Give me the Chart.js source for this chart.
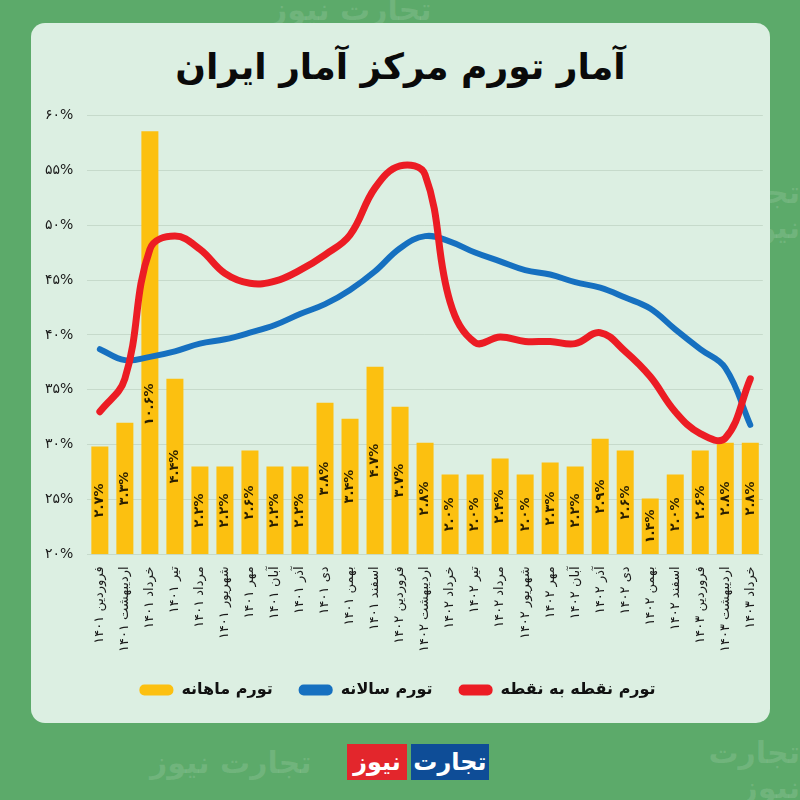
<!DOCTYPE html>
<html>
<head>
<meta charset="utf-8">
<script src="https://cdn.jsdelivr.net/npm/chart.js@4"></script>
<style>
  html, body { margin: 0; padding: 0; }
  body {
    width: 800px; height: 800px; position: relative; overflow: hidden;
    background: #5caa6a; font-family: "DejaVu Sans", sans-serif;
  }
  .wm { position: absolute; color: rgba(255,255,255,0.13); font-weight: bold; font-size: 30px; direction: rtl; }
  .card {
    position: absolute; left: 31px; top: 23px; width: 739px; height: 700px;
    background: #dcefe2; border-radius: 14px;
  }
  .title {
    position: absolute; left: 31px; top: 46px; width: 739px; text-align: center;
    font-size: 36px; font-weight: bold; color: #0a0a0a; direction: rtl;
  }
  .chart-box { position: absolute; left: 31px; top: 93px; width: 739px; height: 615px; }
  .logo { position: absolute; top: 744px; left: 347px; height: 36px; display: flex; direction: ltr; }
  .logo span { display: block; color: #fff; font-weight: bold; font-size: 24px; line-height: 36px; text-align: center; }
  .logo .red { background: #e3262c; width: 60px; }
  .logo .blue { background: #0e4d97; width: 78px; margin-left: 4px; }
</style>
</head>
<body>
<div class="wm" style="left:270px;top:-8px;">تجارت نیوز</div>
<div class="wm" style="left:640px;top:175px;">تجارت نیوز</div>
<div class="wm" style="left:640px;top:735px;">تجارت نیوز</div>
<div class="wm" style="left:150px;top:745px;">تجارت نیوز</div>
<div class="card"></div>
<div class="title">آمار تورم مرکز آمار ایران</div>
<div class="chart-box"><canvas id="inflationChart"></canvas></div>
<div class="logo"><span class="red">نیوز</span><span class="blue">تجارت</span></div>

<script>
// months (Persian calendar)
const months = [
    'فروردین ۱۴۰۱', 'اردیبهشت ۱۴۰۱', 'خرداد ۱۴۰۱', 'تیر ۱۴۰۱', 'مرداد ۱۴۰۱', 'شهریور ۱۴۰۱',
    'مهر ۱۴۰۱', 'آبان ۱۴۰۱', 'آذر ۱۴۰۱', 'دی ۱۴۰۱', 'بهمن ۱۴۰۱', 'اسفند ۱۴۰۱',
    'فروردین ۱۴۰۲', 'اردیبهشت ۱۴۰۲', 'خرداد ۱۴۰۲', 'تیر ۱۴۰۲', 'مرداد ۱۴۰۲', 'شهریور ۱۴۰۲',
    'مهر ۱۴۰۲', 'آبان ۱۴۰۲', 'آذر ۱۴۰۲', 'دی ۱۴۰۲', 'بهمن ۱۴۰۲', 'اسفند ۱۴۰۲',
    'فروردین ۱۴۰۳', 'اردیبهشت ۱۴۰۳', 'خرداد ۱۴۰۳'
];

// monthly inflation (bars)
const monthly = [2.7, 3.3, 10.6, 4.4, 2.2, 2.2, 2.6, 2.2, 2.2, 3.8, 3.4, 4.7, 3.7, 2.8,
    2.0, 2.0, 2.4, 2.0, 2.3, 2.2, 2.9, 2.6, 1.4, 2.0, 2.6, 2.8, 2.8];

// annual inflation (blue)
const annual = [38.7, 37.7, 38.0, 38.5, 39.2, 39.6, 40.2, 40.9, 41.9, 42.8, 44.1, 45.8, 47.9, 49.0,
    48.5, 47.5, 46.7, 45.9, 45.5, 44.8, 44.3, 43.4, 42.4, 40.5, 38.7, 37.0, 31.8];

// point to point inflation (red)
const pointToPoint = [33.0, 36.0, 47.8, 49.0, 47.8, 45.6, 44.7, 44.9, 45.9, 47.3, 49.1, 53.4, 55.4, 54.6,
    43.0, 39.3, 39.8, 39.4, 39.4, 39.2, 40.2, 38.5, 36.2, 33.0, 31.0, 30.6, 36.0];

const seriesNames = ['تورم ماهانه', 'تورم سالانه', 'تورم نقطه به نقطه'];

// convert latin digits to Persian digits
function toFa(s) {
    return String(s).replace(/\d/g, d => '۰۱۲۳۴۵۶۷۸۹'[d]);
}

const FONT = '"DejaVu Sans", sans-serif';

// draw rotated value labels inside the bars
const barLabels = {
    id: 'barLabels',
    afterDatasetDraw(chart, args) {
        if (args.index !== 0) return;
        const ctx = chart.ctx;
        const base = chart.scales.y2.getPixelForValue(0);
        ctx.save();
        ctx.font = 'bold 13px ' + FONT;
        ctx.fillStyle = '#2a1e00';
        ctx.textAlign = 'center';
        ctx.textBaseline = 'middle';
        args.meta.data.forEach((bar, i) => {
            const cy = Math.max((bar.y + base) / 2, base - 150);
            ctx.save();
            ctx.translate(bar.x, cy);
            ctx.rotate(-Math.PI / 2);
            ctx.fillText(toFa(monthly[i].toFixed(1)) + '%', 0, 0);
            ctx.restore();
        });
        ctx.restore();
    }
};

document.addEventListener('DOMContentLoaded', function() {
    const ctx = document.getElementById('inflationChart');

    new Chart(ctx, {
        data: {
            labels: months,
            datasets: [
                {
                    type: 'bar',
                    label: seriesNames[0],
                    data: monthly,
                    yAxisID: 'y2',
                    backgroundColor: '#fcc010',
                    borderColor: '#fcc010',
                    borderWidth: 0,
                    categoryPercentage: 1,
                    barPercentage: 0.68,
                    order: 3
                },
                {
                    type: 'line',
                    label: seriesNames[1],
                    data: annual,
                    yAxisID: 'y',
                    borderColor: '#1670c0',
                    backgroundColor: '#1670c0',
                    borderWidth: 6,
                    borderCapStyle: 'round',
                    pointRadius: 0,
                    tension: 0.4,
                    order: 2
                },
                {
                    type: 'line',
                    label: seriesNames[2],
                    data: pointToPoint,
                    yAxisID: 'y',
                    borderColor: '#ec1c24',
                    backgroundColor: '#ec1c24',
                    borderWidth: 7,
                    borderCapStyle: 'round',
                    pointRadius: 0,
                    tension: 0.4,
                    order: 1
                }
            ]
        },
        options: {
            responsive: true,
            maintainAspectRatio: false,
            animation: false,
            layout: { padding: { left: 0, right: 6, top: 8, bottom: 0 } },
            plugins: {
                tooltip: { enabled: false },
                legend: {
                    position: 'bottom',
                    labels: {
                        color: '#111',
                        font: { family: FONT, size: 16, weight: 'bold' },
                        boxWidth: 34,
                        boxHeight: 11,
                        useBorderRadius: true,
                        borderRadius: 5,
                        padding: 26,
                        sort: (a, b) => a.datasetIndex - b.datasetIndex,
                        generateLabels: chart => Chart.defaults.plugins.legend.labels.generateLabels(chart)
                            .map(l => Object.assign(l, { lineWidth: 0 }))
                    }
                }
            },
            scales: {
                x: {
                    grid: { display: false },
                    border: { display: false },
                    ticks: {
                        color: '#1a1a1a',
                        font: { family: FONT, size: 13 },
                        minRotation: 90,
                        maxRotation: 90,
                        autoSkip: false,
                        padding: 4
                    }
                },
                y: {
                    position: 'left',
                    min: 20,
                    max: 60,
                    grid: { color: '#c6dacb', drawTicks: false },
                    border: { display: false },
                    ticks: {
                        stepSize: 5,
                        padding: 14,
                        color: '#1a1a1a',
                        font: { family: FONT, size: 14 },
                        callback: v => toFa(v) + '%'
                    }
                },
                y2: {
                    display: false,
                    min: 0,
                    max: 11
                }
            }
        },
        plugins: [barLabels]
    });
});
</script>
</body>
</html>
